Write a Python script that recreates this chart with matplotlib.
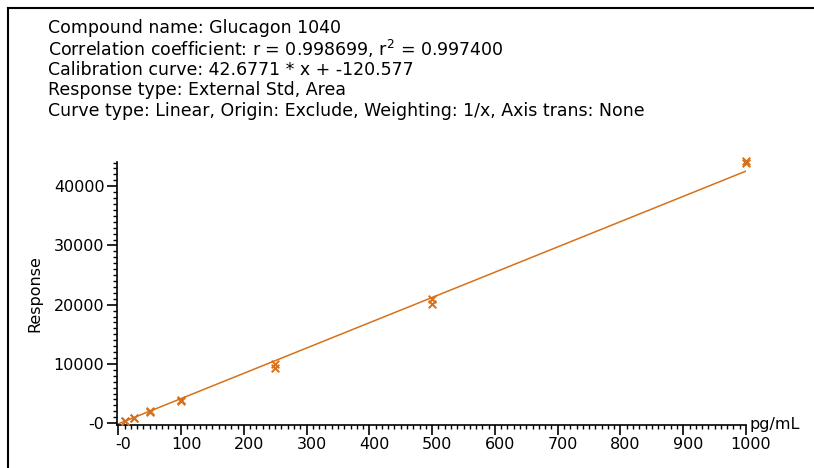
import matplotlib
matplotlib.use("Agg")
import matplotlib.pyplot as plt
from matplotlib.lines import Line2D
from matplotlib.ticker import MultipleLocator, FuncFormatter
from matplotlib.transforms import ScaledTranslation

# Calibration standards (pg/mL) and measured responses (duplicates)
conc = [10, 10, 25, 25, 50, 50, 100, 100, 250, 250, 500, 500, 1000, 1000]
response = [380, 330, 950, 880, 2000, 1900, 3950, 3700, 10000, 9250, 20900, 20200, 44300, 43900]

slope = 42.6771
intercept = -120.577

header_lines = [
    "Compound name: Glucagon 1040",
    "Correlation coefficient: r = 0.998699, r$^2$ = 0.997400",
    "Calibration curve: 42.6771 * x + -120.577",
    "Response type: External Std, Area",
    "Curve type: Linear, Origin: Exclude, Weighting: 1/x, Axis trans: None",
]

orange = "#d8701a"

fig = plt.figure(figsize=(8.14, 4.68), dpi=100)
ax = fig.add_axes([0.1437, 0.092, 0.7728, 0.562])

# fitted line and points
x_line = [0, 1000]
y_line = [slope * v + intercept for v in x_line]
ax.plot(x_line, y_line, color=orange, linewidth=1.1)
ax.scatter(conc, response, marker="x", color=orange, s=30, linewidths=1.4, zorder=3, clip_on=False)

ax.set_xlim(-2, 1000)
ax.set_ylim(-300, 44100)

for side in ["top", "right"]:
    ax.spines[side].set_visible(False)
ax.spines["left"].set_linewidth(1.2)
ax.spines["bottom"].set_linewidth(1.2)

ax.xaxis.set_major_locator(MultipleLocator(100))
ax.xaxis.set_minor_locator(MultipleLocator(10))
ax.yaxis.set_major_locator(MultipleLocator(10000))
ax.yaxis.set_minor_locator(MultipleLocator(1000))

fmt = FuncFormatter(lambda v, p: "-0" if v == 0 else f"{v:.0f}")
ax.xaxis.set_major_formatter(fmt)
ax.yaxis.set_major_formatter(fmt)

ax.tick_params(which="major", length=7, width=1.2, labelsize=11.5, pad=2, colors="black")
ax.tick_params(which="minor", length=3, width=1.0)

# x tick labels sit slightly right of their ticks in the original
shift = ScaledTranslation(5 / 100, 0, fig.dpi_scale_trans)
for lbl in ax.get_xticklabels():
    lbl.set_transform(lbl.get_transform() + shift)

ax.set_ylabel("Response", fontsize=11.5, labelpad=8)
ax.text(1.006, 0.0, "pg/mL", transform=ax.transAxes, fontsize=11.5, ha="left", va="center")

# header block
for i, line in enumerate(header_lines):
    fig.text(48 / 814, 1 - (28 + i * 20.8) / 468, line, fontsize=12.5, ha="left", va="center")

# page frame (top and left edges)
fig.add_artist(Line2D([8 / 814, 8 / 814], [0, 1 - 8 / 468], color="black", linewidth=1.5, transform=fig.transFigure))
fig.add_artist(Line2D([8 / 814, 1], [1 - 8 / 468, 1 - 8 / 468], color="black", linewidth=1.5, transform=fig.transFigure))

fig.savefig("out.png", dpi=100)
